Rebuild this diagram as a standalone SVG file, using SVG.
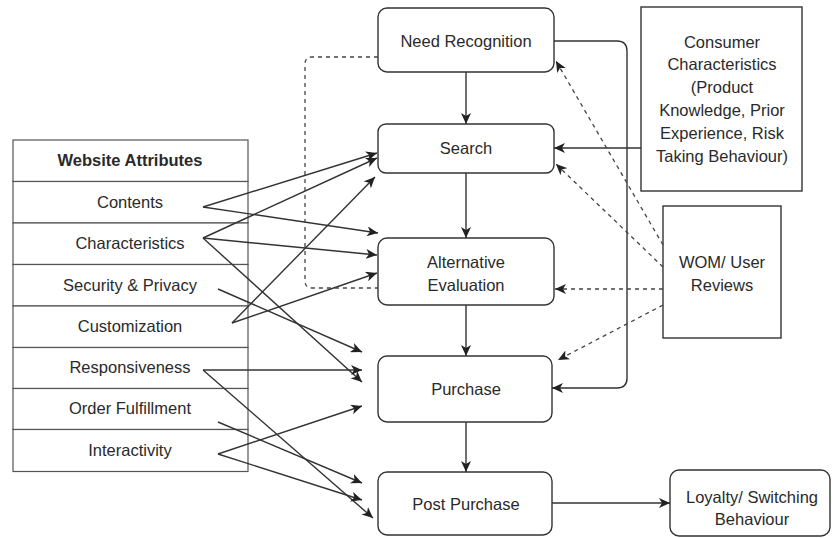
<svg xmlns="http://www.w3.org/2000/svg" width="834" height="538" viewBox="0 0 834 538">
<style>
text{font-family:"Liberation Sans",Arial,sans-serif;font-size:16.5px;fill:#2a2a2a;text-anchor:middle}
.b{font-weight:bold}
.node{fill:#fff;stroke:#333;stroke-width:1.4}
.cell{fill:#fff;stroke:#555;stroke-width:1.2}
.e{fill:none;stroke:#333;stroke-width:1.4}
.d{fill:none;stroke:#444;stroke-width:1.3;stroke-dasharray:4 4}
.a{marker-end:url(#arr)}
</style>
<defs>
<marker id="arr" markerUnits="userSpaceOnUse" markerWidth="12" markerHeight="10" refX="11" refY="5" orient="auto">
<path d="M0,0 L11,5 L0,10 L3,5 Z" fill="#222"/>
</marker>
</defs>
<rect width="834" height="538" fill="#fff"/>

<g id="website-attributes">
<rect class="cell" x="13" y="140" width="235" height="41.5"/>
<rect class="cell" x="13" y="181.5" width="235" height="41.5"/>
<rect class="cell" x="13" y="223" width="235" height="41.5"/>
<rect class="cell" x="13" y="264.5" width="235" height="41.5"/>
<rect class="cell" x="13" y="306" width="235" height="41.5"/>
<rect class="cell" x="13" y="347.5" width="235" height="41"/>
<rect class="cell" x="13" y="388.5" width="235" height="41"/>
<rect class="cell" x="13" y="429.5" width="235" height="42"/>
<text class="b" x="130" y="166">Website Attributes</text>
<text x="130" y="208">Contents</text>
<text x="130" y="249">Characteristics</text>
<text x="130" y="291">Security &amp; Privacy</text>
<text x="130" y="332">Customization</text>
<text x="130" y="373">Responsiveness</text>
<text x="130" y="414">Order Fulfillment</text>
<text x="130" y="456">Interactivity</text>
</g>

<g id="need-recognition">
<rect class="node" x="378" y="8" width="176" height="64" rx="9"/>
<text x="466" y="47">Need Recognition</text>
</g>
<g id="search">
<rect class="node" x="378" y="124" width="176" height="49" rx="8"/>
<text x="466" y="154">Search</text>
</g>
<g id="alternative-evaluation">
<rect class="node" x="378" y="238" width="176" height="67" rx="9"/>
<text x="466" y="268">Alternative</text>
<text x="466" y="291">Evaluation</text>
</g>
<g id="purchase">
<rect class="node" x="378" y="356" width="174" height="66" rx="9"/>
<text x="466" y="395">Purchase</text>
</g>
<g id="post-purchase">
<rect class="node" x="378" y="472" width="174" height="63" rx="9"/>
<text x="466" y="510">Post Purchase</text>
</g>
<g id="loyalty">
<rect class="node" x="670" y="470" width="160" height="66" rx="9"/>
<text x="752" y="503">Loyalty/ Switching</text>
<text x="752" y="525">Behaviour</text>
</g>
<g id="consumer-characteristics">
<rect class="node" x="641" y="7" width="161" height="184"/>
<text x="722" y="48">Consumer</text>
<text x="722" y="70">Characteristics</text>
<text x="722" y="93">(Product</text>
<text x="722" y="116">Knowledge, Prior</text>
<text x="722" y="139">Experience, Risk</text>
<text x="722" y="162">Taking Behaviour)</text>
</g>
<g id="wom">
<rect class="node" x="663" y="206" width="118" height="132"/>
<text x="722" y="268">WOM/ User</text>
<text x="722" y="291">Reviews</text>
</g>

<g id="connectors">
<path class="e a" d="M466,72 L466,124"/>
<path class="e a" d="M466,173 L466,238"/>
<path class="e a" d="M466,305 L466,356"/>
<path class="e a" d="M466,422 L466,472"/>
<path class="e a" d="M552,503 L670,503"/>
<path class="e a" d="M554,41 L617,41 Q627,41 627,51 L627,378 Q627,388 617,388 L552,388"/>
<path class="e a" d="M641,148 L554,148"/>
<path class="e a" d="M203,207 L377,153"/>
<path class="e a" d="M203,207 L378,233"/>
<path class="e a" d="M203,238 L377,158"/>
<path class="e a" d="M203,238 L377,255"/>
<path class="e a" d="M203,238 L362,382"/>
<path class="e a" d="M218,289 L362,352"/>
<path class="e a" d="M232,323 L375,177"/>
<path class="e a" d="M232,323 L377,273"/>
<path class="e a" d="M203,370 L362,370"/>
<path class="e a" d="M203,370 L373,518"/>
<path class="e a" d="M218,422 L362,483"/>
<path class="e a" d="M218,454 L362,406"/>
<path class="e a" d="M218,454 L362,500"/>
<path class="d" d="M378,57 L312,57 Q305,57 305,64 L305,281 Q305,288 312,288 L378,288"/>
<path class="d a" d="M663,245 L556,61"/>
<path class="d a" d="M663,267 L556,164"/>
<path class="d a" d="M663,289 L555,289"/>
<path class="d a" d="M663,305 L558,360"/>
</g>
</svg>
